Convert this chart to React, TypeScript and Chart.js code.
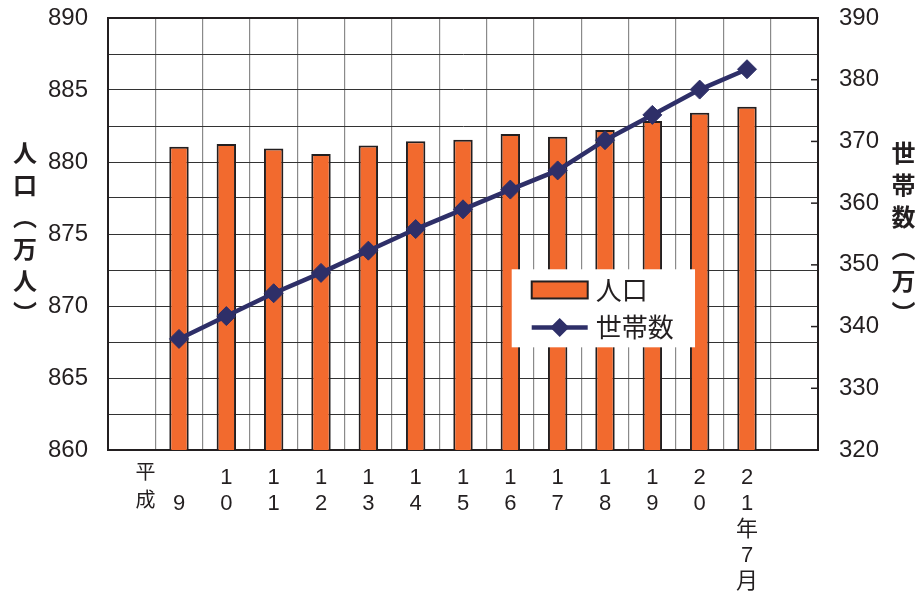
import { useEffect, useRef } from 'react';
import { Chart, registerables } from 'chart.js';

Chart.register(...registerables);

// ---- data ----
const categories: string[][] = [
  [''],
  ['', '9'],
  ['1', '0'],
  ['1', '1'],
  ['1', '2'],
  ['1', '3'],
  ['1', '4'],
  ['1', '5'],
  ['1', '6'],
  ['1', '7'],
  ['1', '8'],
  ['1', '9'],
  ['2', '0'],
  ['2', '1', '年', '7', '月'],
  [''],
];
const eraLabel = ['平', '成'];
const populationLabel = '人口';
const householdLabel = '世帯数';
const population: (number | null)[] = [null, 881.06, 881.25, 880.93, 880.56, 881.15, 881.44, 881.55, 881.95, 881.76, 882.22, 882.85, 883.42, 883.84, null];
const households: (number | null)[] = [null, 338.0, 341.7, 345.4, 348.7, 352.3, 355.8, 359.0, 362.2, 365.3, 370.2, 374.3, 378.4, 381.7, null];
const leftTitle = ['人', '口', '︵', '万', '人', '︶'];
const rightTitle = ['世', '帯', '数', '︵', '万', '︶'];
const leftMin = 860;
const leftMax = 890;
const leftStep = 2.5;
const leftLabelStep = 5;
const rightMin = 320;
const rightMax = 390;
const rightStep = 5;
const rightLabelStep = 10;

// ---- styles ----
const TEXT = '#231F20';
const ORANGE = '#F26A2E';
const NAVY = '#2E2F68';
const LATIN = '"Liberation Sans", Arial, "Noto Sans CJK JP", sans-serif';
const CJK = '"Noto Sans CJK JP", "Liberation Sans", sans-serif';

const decorPlugin = {
  id: 'decor',
  afterDraw(chart: any) {
    const { ctx, chartArea: ca, scales } = chart;
    const w = ca.right - ca.left;
    const h = ca.bottom - ca.top;
    ctx.save();

    // top frame line
    ctx.strokeStyle = TEXT;
    ctx.lineWidth = 2;
    ctx.beginPath();
    ctx.moveTo(ca.left - 1, ca.top);
    ctx.lineTo(ca.right + 1, ca.top);
    ctx.stroke();

    // inward ticks on right axis
    const y2 = scales.y2;
    ctx.lineWidth = 1.5;
    y2.ticks.forEach((t: any) => {
      const py = y2.getPixelForValue(t.value);
      ctx.beginPath();
      ctx.moveTo(ca.right - 7, py);
      ctx.lineTo(ca.right, py);
      ctx.stroke();
    });

    // vertical axis titles
    ctx.fillStyle = TEXT;
    ctx.font = `bold 24px ${CJK}`;
    ctx.textAlign = 'center';
    ctx.textBaseline = 'middle';
    const titleTop = ca.top + h * 0.313;
    leftTitle.forEach((c, i) => {
      ctx.fillText(c, ca.left * 0.232, titleTop + i * 32);
    });
    rightTitle.forEach((c, i) => {
      ctx.fillText(c, ca.right + (chart.width - ca.right) * 0.83, titleTop + i * 32);
    });

    // era label
    const xs = scales.x;
    const catW = xs.getPixelForValue(2) - xs.getPixelForValue(1);
    ctx.font = `20px ${CJK}`;
    const ex = xs.getPixelForValue(1) - catW * 0.71;
    eraLabel.forEach((c, i) => {
      ctx.fillText(c, ex, xs.top + 21 + i * 28);
    });

    // legend
    const lx = ca.left + w * 0.5686;
    const lr = ca.left + w * 0.8268;
    const ly = ca.top + h * 0.5817;
    const lb = ca.top + h * 0.7623;
    ctx.fillStyle = '#ffffff';
    ctx.fillRect(lx, ly, lr - lx, lb - ly);
    const rowH = (lb - ly) / 2;
    const symL = lx + 20;
    const symR = lx + 76;
    const cy1 = ly + rowH * 0.53;
    const cy2 = ly + rowH * 1.49;
    const ds = chart.data.datasets;
    // bar swatch
    ctx.fillStyle = ds[0].backgroundColor;
    ctx.fillRect(symL, cy1 - 8.5, symR - symL, 17);
    ctx.strokeStyle = ds[0].borderColor;
    ctx.lineWidth = 2;
    ctx.strokeRect(symL, cy1 - 8.5, symR - symL, 17);
    // line swatch
    ctx.strokeStyle = ds[1].borderColor;
    ctx.lineWidth = 4.5;
    ctx.beginPath();
    ctx.moveTo(symL, cy2);
    ctx.lineTo(symR, cy2);
    ctx.stroke();
    ctx.fillStyle = ds[1].borderColor;
    const mx = (symL + symR) / 2;
    const r = 9.5;
    ctx.beginPath();
    ctx.moveTo(mx - r, cy2);
    ctx.lineTo(mx, cy2 - r);
    ctx.lineTo(mx + r, cy2);
    ctx.lineTo(mx, cy2 + r);
    ctx.closePath();
    ctx.fill();
    // legend text
    ctx.fillStyle = TEXT;
    ctx.font = `26px ${CJK}`;
    ctx.textAlign = 'left';
    ctx.fillText(ds[0].label, symR + 8, cy1);
    ctx.fillText(ds[1].label, symR + 8, cy2);

    ctx.restore();
  },
};

export default function App() {
  const ref = useRef<HTMLCanvasElement | null>(null);

  useEffect(() => {
    if (!ref.current) return;
    const chart = new Chart(ref.current, {
      type: 'bar',
      data: {
        labels: categories,
        datasets: [
          {
            type: 'bar',
            label: populationLabel,
            data: population,
            backgroundColor: ORANGE,
            borderColor: TEXT,
            borderWidth: 2,
            barPercentage: 0.41,
            categoryPercentage: 1,
            yAxisID: 'y',
            order: 2,
          },
          {
            type: 'line',
            label: householdLabel,
            data: households,
            borderColor: NAVY,
            backgroundColor: NAVY,
            borderWidth: 4.5,
            pointStyle: 'rectRot',
            pointRadius: 9.5,
            pointBorderWidth: 1,
            pointBackgroundColor: NAVY,
            pointBorderColor: NAVY,
            tension: 0,
            yAxisID: 'y2',
            order: 1,
          },
        ] as any,
      },
      plugins: [decorPlugin],
      options: {
        animation: false,
        responsive: true,
        maintainAspectRatio: false,
        layout: { padding: { top: 18, left: 0, right: 0, bottom: 0 } },
        plugins: {
          legend: { display: false },
          tooltip: { enabled: false },
        },
        scales: {
          x: {
            type: 'category',
            grid: { color: '#8a8a8a', lineWidth: 1.2, drawTicks: false, offset: true },
            border: { color: TEXT, width: 2 },
            ticks: {
              color: TEXT,
              font: { family: LATIN, size: 22, lineHeight: '26px' as any },
              padding: 15,
              maxRotation: 0,
              minRotation: 0,
              autoSkip: false,
            },
            afterFit: (s: any) => {
              s.height = 144;
              s.paddingLeft = 0;
              s.paddingRight = 0;
            },
          },
          y: {
            type: 'linear',
            position: 'left',
            min: leftMin,
            max: leftMax,
            grid: { color: '#333333', lineWidth: 1, drawTicks: false },
            border: { color: TEXT, width: 2 },
            ticks: {
              stepSize: leftStep,
              color: TEXT,
              font: { family: LATIN, size: 24 },
              padding: 20,
              callback: (v: any) => (Number(v) % leftLabelStep === 0 ? String(v) : ''),
            },
            afterFit: (s: any) => {
              s.width = 108;
              s.paddingTop = 0;
              s.paddingBottom = 0;
            },
          },
          y2: {
            type: 'linear',
            position: 'right',
            min: rightMin,
            max: rightMax,
            grid: { drawOnChartArea: false, drawTicks: false },
            border: { color: TEXT, width: 2 },
            ticks: {
              stepSize: rightStep,
              color: TEXT,
              font: { family: LATIN, size: 24 },
              padding: 21,
              callback: (v: any) => (Number(v) % rightLabelStep === 0 ? String(v) : ''),
            },
            afterFit: (s: any) => {
              s.width = 103;
              s.paddingTop = 0;
              s.paddingBottom = 0;
            },
          },
        },
      } as any,
    });
    return () => chart.destroy();
  }, []);

  return (
    <div style={{ position: 'absolute', left: 0, top: 0, width: 921, height: 594, background: '#fff' }}>
      <canvas ref={ref} />
    </div>
  );
}
